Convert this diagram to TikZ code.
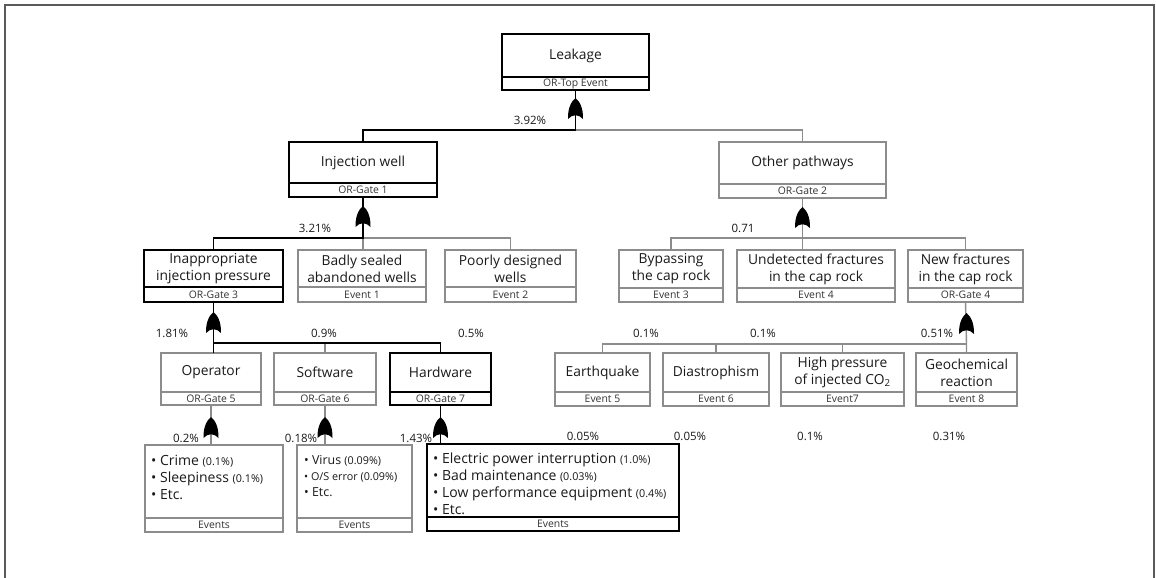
\documentclass[tikz,border=0pt]{standalone}
\usepackage{fontspec}
\setmainfont{Open Sans}
\definecolor{boxgray}{HTML}{8C8C8C}
\definecolor{txt}{HTML}{1A1A1A}
\definecolor{subtxt}{HTML}{333333}
\definecolor{framec}{HTML}{5A5A5A}
\tikzset{
  blk/.style={draw=black, line width=1.8pt},
  gry/.style={draw=boxgray, line width=1.4pt},
  ttl/.style={font=\fontsize{13.8}{17}\selectfont, text=txt, align=center, inner sep=0pt, outer sep=0pt},
  subl/.style={font=\fontsize{10.4}{11}\selectfont, text=subtxt, inner sep=0pt, outer sep=0pt},
  pct/.style={font=\fontsize{11.5}{13}\selectfont, text=txt, inner sep=0pt},
  lst/.style={font=\fontsize{14}{16.8}\selectfont, text=txt, align=left, inner sep=0pt, anchor=north west},
  orgate/.pic={\fill[black] (-7.5,0) .. controls (-7.8,-13) and (-3,-18.5) .. (0,-21) .. controls (3,-18.5) and (7.8,-13) .. (7.5,0) .. controls (3,-5) and (-3,-5) .. (-7.5,0) -- cycle;}
}
% #1 name, #2 style, #3 x1, #4 y1, #5 x2, #6 ydiv, #7 y2, #8 title, #9 sub
\newcommand\ftbox[9]{%
  \pgfmathsetmacro\ftW{#5-#3}\pgfmathsetmacro\ftH{#6-#4}\pgfmathsetmacro\ftS{#7-#6}%
  \node[#2, ttl, minimum width=\ftW pt, minimum height=\ftH pt, anchor=north west] (#1) at (#3,#4) {#8};
  \node[#2, subl, minimum width=\ftW pt, minimum height=\ftS pt, anchor=north west] (#1-s) at (#3,#6) {#9};
}
\newcommand\pp[1]{{\fontsize{10.8}{12}\selectfont #1}}
\begin{document}
\begin{tikzpicture}[x=1pt,y=-1pt]
\useasboundingbox (0,0) rectangle (1156,578);
\fill[white] (0,0) rectangle (1156,578);
\draw[framec, line width=1.2pt] (5,578) -- (5,5) -- (1154,5) -- (1154,578);

% boxes
\ftbox{leak}{blk}{502}{34}{649}{77}{90}{Leakage}{OR-Top Event}
\ftbox{inj}{blk}{289}{142}{437}{183}{197}{Injection well}{OR-Gate 1}
\ftbox{oth}{gry}{719}{142}{886}{184}{198}{Other pathways}{OR-Gate 2}
\ftbox{inap}{blk}{144}{250}{283}{287}{302}{Inappropriate\\injection pressure}{OR-Gate 3}
\ftbox{bad}{gry}{298}{250}{426}{287}{302}{Badly sealed\\abandoned wells}{Event 1}
\ftbox{poor}{gry}{445}{250}{576}{287}{302}{Poorly designed\\wells}{Event 2}
\ftbox{byp}{gry}{619}{250}{723}{288}{302}{Bypassing\\the cap rock}{Event 3}
\ftbox{und}{gry}{737}{250}{895}{288}{302}{Undetected fractures\\in the cap rock}{Event 4}
\ftbox{newf}{gry}{908}{250}{1023}{288}{302}{New fractures\\in the cap rock}{OR-Gate 4}
\ftbox{op}{gry}{161}{353}{261}{392}{405}{Operator}{OR-Gate 5}
\ftbox{sw}{gry}{274}{353}{376}{392}{405}{Software}{OR-Gate 6}
\ftbox{hw}{blk}{390}{353}{491}{392}{405}{Hardware}{OR-Gate 7}
\ftbox{eq}{gry}{555}{353}{650}{392}{406}{Earthquake}{Event 5}
\ftbox{dia}{gry}{663}{353}{769}{392}{406}{Diastrophism}{Event 6}
\ftbox{hp}{gry}{781}{353}{904}{392}{406}{High pressure\\of injected CO\textsubscript{2}}{Event7}
\ftbox{geo}{gry}{916}{353}{1017}{392}{406}{Geochemical\\reaction}{Event 8}
\ftbox{crime}{gry}{145}{445}{283}{518}{532}{}{Events}
\ftbox{virus}{gry}{297}{445}{412}{518}{532}{}{Events}
\ftbox{elec}{blk}{427}{444}{679}{517}{531}{}{Events}

% event lists
\node[lst] (crime-t) at (151,455) {• Crime \pp{(0.1\%)}\\• Sleepiness \pp{(0.1\%)}\\• Etc.};
\node[lst, font=\fontsize{12.4}{16}\selectfont] (virus-t) at (304,455) {• Virus \pp{(0.09\%)}\\{\fontsize{10.8}{12}\selectfont • O/S error (0.09\%)}\\• Etc.};
\node[lst] (elec-t) at (433,453) {• Electric power interruption \pp{(1.0\%)}\\• Bad maintenance \pp{(0.03\%)}\\• Low performance equipment \pp{(0.4\%)}\\• Etc.};

% junctions
\coordinate (j0) at (575.5,130);
\coordinate (j1) at (363,238);
\coordinate (j2) at (802.5,238);
\coordinate (j3) at (213.5,343);
\coordinate (j4) at (966.5,344);

% connectors
\draw[gry] (j0) -| (oth.north);
\draw[blk] (leak-s.south) -- (j0) -| (inj.north);

\draw[gry] (j1) -| (poor.north);
\draw[gry] (j1) -- (j1 |- bad.north);
\draw[blk] (inj-s.south) -- (j1) -| (inap.north);

\draw[gry] (oth-s.south) -- (j2) -- (j2 |- und.north);
\draw[gry] (j2) -| (byp.north);
\draw[gry] (j2) -| (newf.north);

\draw[gry] (sw.north) -- (sw.north |- j3);
\draw[blk] (inap-s.south) -- (j3) -- (j3 |- op.north);
\draw[blk] (j3) -| (hw.north);

\draw[gry] (newf-s.south) -- (j4) -- (j4 |- geo.north);
\draw[gry] (j4) -| (eq.north);
\draw[gry] (dia.north) -- (dia.north |- j4);
\draw[gry] (hp.north) -- (hp.north |- j4);

\draw[gry] (op-s.south) -- (op-s.south |- crime.north);
\draw[gry] (sw-s.south) -- (sw-s.south |- virus.north);
\draw[blk] (hw-s.south) -- (hw-s.south |- elec.north);

% gates
\pic at (575.5,119) {orgate};
\pic at (363,227) {orgate};
\pic at (802.5,228) {orgate};
\pic at (213.5,333) {orgate};
\pic at (966.5,334) {orgate};
\pic at (211,438) {orgate};
\pic at (325,438) {orgate};
\pic at (440.5,438) {orgate};

% percentages
\node[pct] (p0) at (530,120) {3.92\%};
\node[pct] (p1) at (315,228) {3.21\%};
\node[pct] (p2) at (743,228) {0.71};
\node[pct] (p3) at (172,333) {1.81\%};
\node[pct] (p4) at (324,333) {0.9\%};
\node[pct] (p5) at (471,333) {0.5\%};
\node[pct] (p6) at (646,333) {0.1\%};
\node[pct] (p7) at (763,333) {0.1\%};
\node[pct] (p8) at (937,333) {0.51\%};
\node[pct] (p9) at (186,438) {0.2\%};
\node[pct] (p10) at (301,438) {0.18\%};
\node[pct] (p11) at (416,438) {1.43\%};
\node[pct] (p12) at (583,436) {0.05\%};
\node[pct] (p13) at (690,436) {0.05\%};
\node[pct] (p14) at (810,436) {0.1\%};
\node[pct] (p15) at (949,436) {0.31\%};
\end{tikzpicture}
\end{document}
